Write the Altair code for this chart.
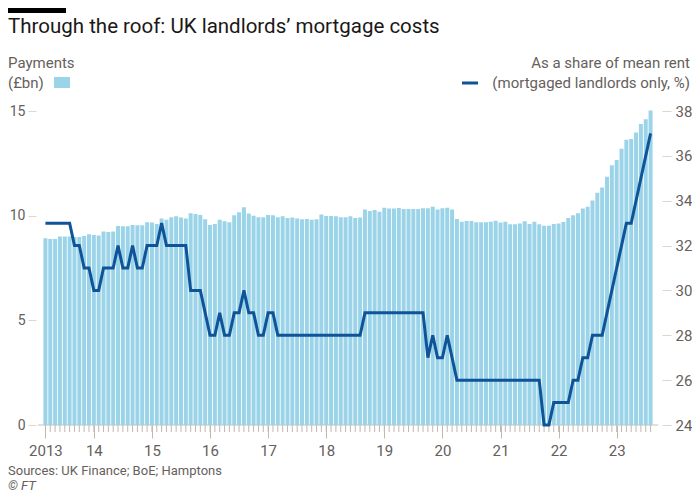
import altair as alt
import pandas as pd

# ---- data (monthly, Mar 2013 .. Aug 2023) ----
payments = [
    8.92, 8.89, 8.89, 9.00, 9.00, 9.00, 8.98, 8.98, 9.03, 9.11, 9.08, 9.05,
    9.24, 9.22, 9.24, 9.51, 9.49, 9.49, 9.56, 9.54, 9.54, 9.68, 9.67, 9.60,
    9.86, 9.80, 9.92, 9.97, 9.91, 9.86, 10.11, 10.08,
    10.03, 9.83, 9.56, 9.60, 9.80, 9.73, 9.68, 10.02, 10.16, 10.40, 10.10, 10.00,
    9.92, 9.92, 10.03, 10.02, 9.92, 9.97, 9.89, 9.91, 9.86, 9.83, 9.84, 9.80,
    9.83, 10.05, 9.99, 9.99, 9.97, 9.92, 9.92, 9.97,
    9.89, 9.91, 10.30, 10.22, 10.27, 10.19, 10.38, 10.34, 10.34, 10.37, 10.32, 10.32,
    10.32, 10.32, 10.35, 10.35, 10.42, 10.30, 10.35, 10.38, 10.30, 9.84, 9.71, 9.75,
    9.75, 9.68, 9.68, 9.68, 9.71, 9.76, 9.67, 9.71,
    9.59, 9.59, 9.62, 9.73, 9.60, 9.71, 9.59, 9.52, 9.52, 9.60, 9.62, 9.70,
    9.89, 10.02, 10.11, 10.34, 10.42, 10.72, 11.10, 11.34, 11.86, 12.41, 12.66, 13.20,
    13.63, 13.66, 13.97, 14.38, 14.61, 15.02,
]
share = [
    33, 33, 33, 33, 33, 33, 32, 32, 31, 31, 30, 30,
    31, 31, 31, 32, 31, 31, 32, 31, 31, 32, 32, 32,
    33, 32, 32, 32, 32, 32, 30, 30, 30, 29, 28, 28,
    29, 28, 28, 29, 29, 30, 29, 29, 28, 28, 29, 29,
    28, 28, 28, 28, 28, 28, 28, 28, 28, 28, 28, 28,
    28, 28, 28, 28, 28, 28, 29, 29, 29, 29, 29, 29,
    29, 29, 29, 29, 29, 29, 29, 27, 28, 27, 27, 28,
    27, 26, 26, 26, 26, 26, 26, 26, 26, 26, 26, 26,
    26, 26, 26, 26, 26, 26, 26, 24, 24, 25, 25, 25,
    25, 26, 26, 27, 27, 28, 28, 28, 29, 30, 31, 32,
    33, 33, 34, 35, 36, 37,
]
tick_pos = [0, 10, 22, 34, 46, 58, 70, 82, 94, 106, 118]
tick_labels = ["2013", "14", "15", "16", "17", "18", "19", "20", "21", "22", "23"]
left_ticks = [0, 5, 10, 15]
right_ticks = [24, 26, 28, 30, 32, 34, 36, 38]

title = "Through the roof: UK landlords\u2019 mortgage costs"
left_head = ["Payments", "(\u00a3bn)"]
right_head = ["As a share of mean rent", "(mortgaged landlords only, %)"]
source = "Sources: UK Finance; BoE; Hamptons"
credit = "\u00a9 FT"

# ---- style ----
FONT = "Roboto"
BAR = "#9bd4e8"
LINE = "#0f5499"
GREY = "#66605c"
TICKX = "#c2b9b0"
TICKY = "#e3d6c9"
W, H = 620, 314

df = pd.DataFrame({"m": list(range(len(payments))), "pay": payments, "share": share})

label_expr = ""
for p, l in zip(tick_pos, tick_labels):
    label_expr += f"datum.value == {p} ? '{l}' : "
label_expr += "''"

xscale = alt.Scale(domain=[-0.5, len(payments) - 0.5], nice=False, zero=False)
xaxis = alt.Axis(values=tick_pos, labelExpr=label_expr, title=None, domain=False, grid=False,
                 tickSize=13, tickColor=TICKX, labelFontSize=15, labelColor=GREY, labelFont=FONT,
                 labelPadding=5, labelFlush=False, labelOverlap=False)

zero = alt.Chart(pd.DataFrame({"a": [0]})).mark_rule(color="#c9c0b7", strokeWidth=1).encode(
    x=alt.value(0), x2=alt.value(W), y=alt.value(H))

bars = alt.Chart(df).mark_bar(color=BAR, size=4).encode(
    x=alt.X("m:Q", scale=xscale, axis=xaxis),
    y=alt.Y("pay:Q", scale=alt.Scale(domain=[0, 15], nice=False),
            axis=alt.Axis(values=left_ticks, title=None, orient="left", domain=False, grid=False,
                          tickSize=8, offset=2, tickColor=TICKY, labelPadding=3, labelFontSize=14,
                          labelColor=GREY, labelFont=FONT, labelFlush=False, labelBaseline="middle")))

minor = alt.Chart(df).mark_rule(color=TICKX, strokeWidth=1).encode(
    x=alt.X("m:Q", scale=xscale, axis=xaxis), y=alt.value(H), y2=alt.value(H + 7))

line = alt.Chart(df).mark_line(color=LINE, strokeWidth=3, strokeJoin="miter").encode(
    x=alt.X("m:Q", scale=xscale, axis=xaxis),
    y=alt.Y("share:Q", scale=alt.Scale(domain=[24, 38], nice=False, zero=False),
            axis=alt.Axis(values=right_ticks, title=None, orient="right", domain=False, grid=False,
                          tickSize=9, offset=4, tickColor=TICKY, labelPadding=4, labelFontSize=15,
                          labelColor=GREY, labelFont=FONT, labelFlush=False, labelBaseline="middle")))


def txt(s, x, y, size=15, color=GREY, align="left", style="normal"):
    return alt.Chart(pd.DataFrame({"t": [s]})).mark_text(
        align=align, baseline="alphabetic", font=FONT, fontSize=size, color=color, fontStyle=style
    ).encode(text="t:N", x=alt.value(x), y=alt.value(y))


def box(x1, x2, y1, y2, color):
    return alt.Chart(pd.DataFrame({"a": [0]})).mark_rect(color=color).encode(
        x=alt.value(x1), x2=alt.value(x2), y=alt.value(y1), y2=alt.value(y2))


texts = [
    box(-30, 28, -103, -98, "#000000"),
    txt(title, -30, -78, size=20.5, color="#1a1817"),
    txt(left_head[0], -30, -43),
    txt(left_head[1], -30, -23),
    box(16, 32, -34, -23, BAR),
    txt(right_head[0], 652, -43, align="right"),
    txt(right_head[1], 652, -23, align="right"),
    box(424, 440, -29.5, -26.5, LINE),
    txt(source, -30, 364, size=13),
    txt(credit, -30, 379, size=13, style="italic"),
]

chart = alt.layer(zero, bars, minor, line, *texts).resolve_scale(y="independent").properties(
    width=W, height=H, autosize=alt.AutoSizeParams(type="none"),
    padding={"left": 30, "top": 103, "right": 34, "bottom": 67},
    background="white",
).configure_view(stroke=None)

chart.save("out.html", embed_options={"renderer": "svg", "actions": False})
